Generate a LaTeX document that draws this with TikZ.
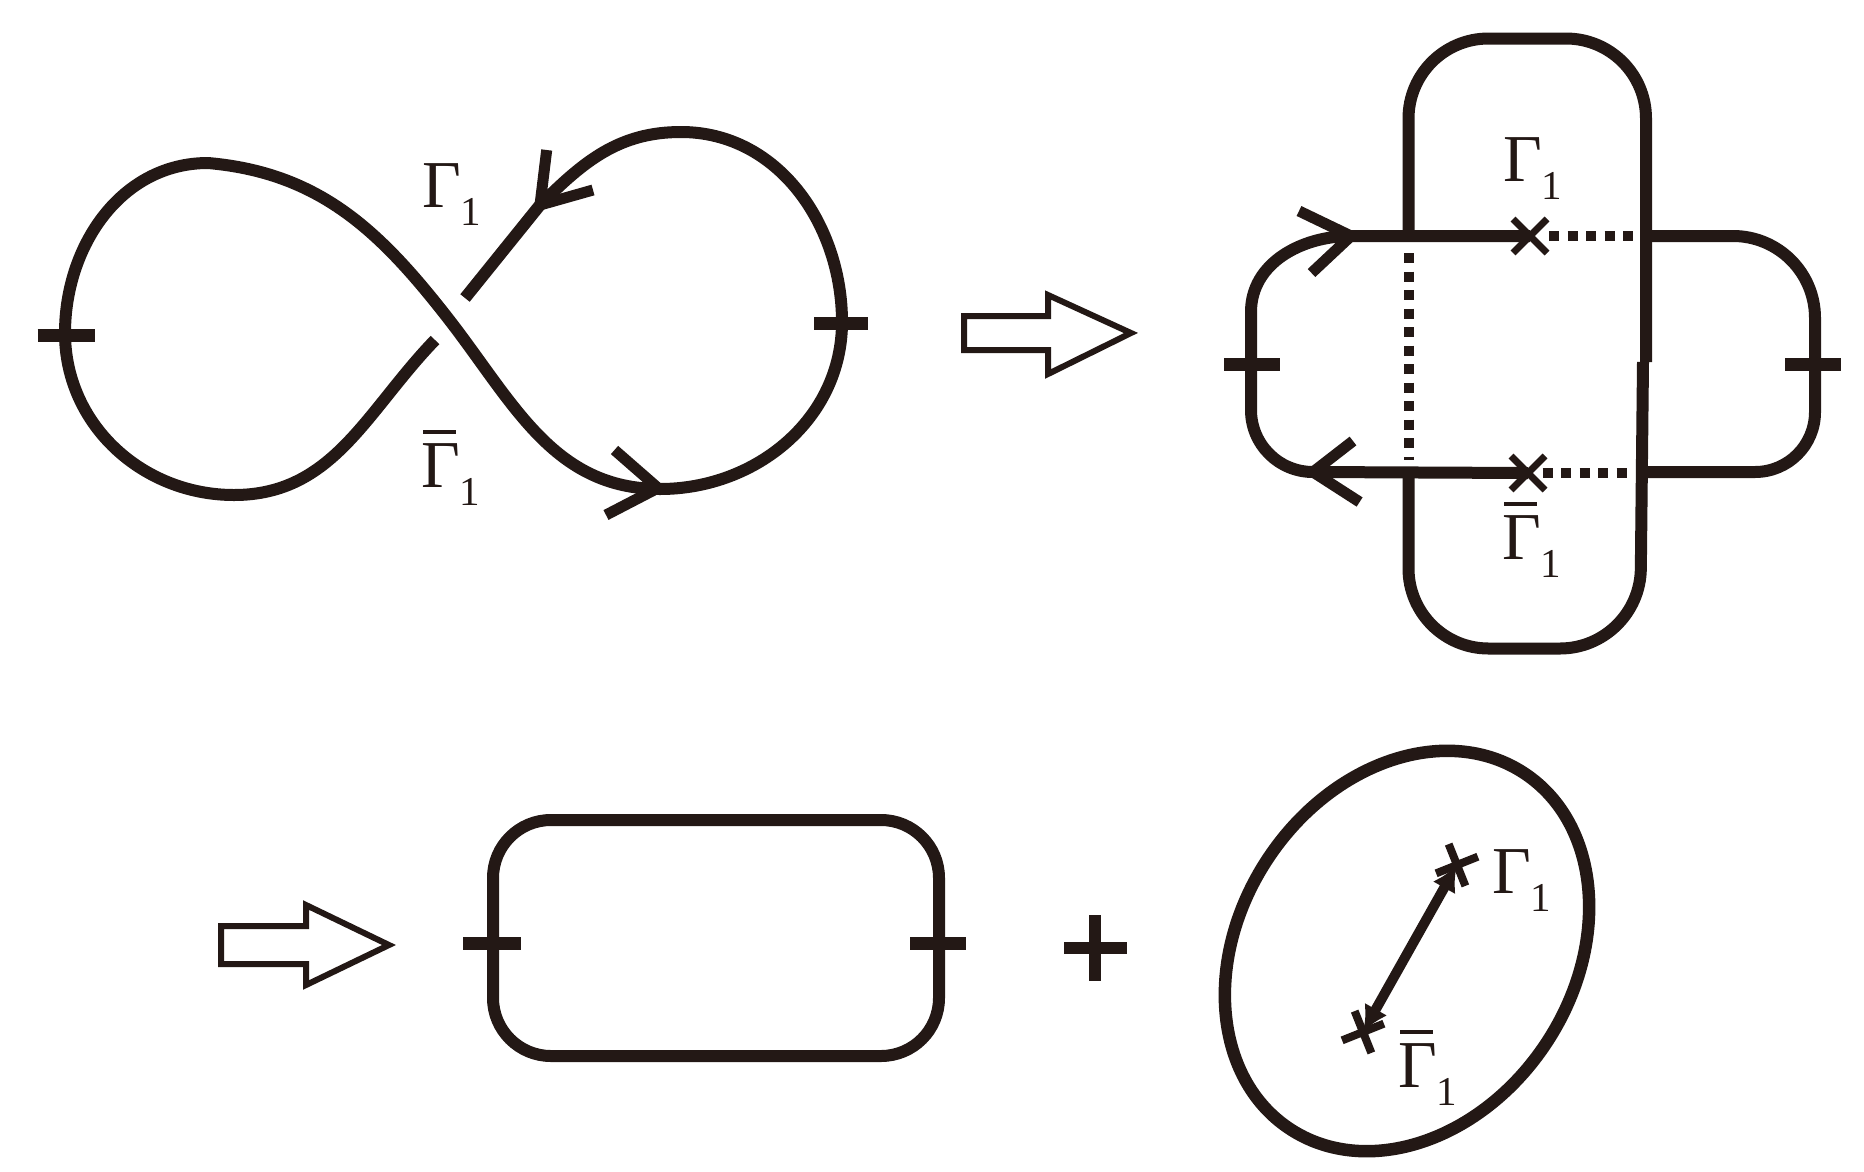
\documentclass[tikz,border=0pt]{standalone}
\usepackage{fontspec}
\setmainfont{Liberation Serif}
\usetikzlibrary{arrows.meta}
\definecolor{ink}{RGB}{35,24,21}
\newcommand{\GamSub}{Γ\raisebox{-18pt}{\fontsize{41}{41}\selectfont 1}}
\newcommand{\GamBarSub}{\rlap{\kern2pt\raisebox{53.5pt}{\color{ink}\rule{33pt}{3.8pt}}}\GamSub}
\begin{document}
\begin{tikzpicture}[x=1pt,y=1pt,
  curve/.style={draw=ink, line width=12pt},
  tickbar/.style={draw=ink, line width=13pt},
  chev/.style={draw=ink, line width=11pt, line join=miter},
  dotline/.style={draw=ink, line width=10pt, dash pattern=on 10pt off 8.5pt},
  xmark/.style={draw=ink, line width=7pt},
  xbar/.style={draw=ink, line width=8pt},
  hollow/.style={draw=ink, line width=6pt, fill=white, line join=miter},
  lbl/.style={inner sep=0pt, anchor=base west, text=ink, font=\fontsize{67}{70}\selectfont}]
\useasboundingbox[fill=white] (0,0) rectangle (1864,-1171);

% ---------- figure eight ----------
\coordinate (ga) at (435,-340);
\coordinate (gb) at (465,-298);
\coordinate (lbot) at (234,-495);
\coordinate (lleft) at (65,-333);
\coordinate (ltop) at (208,-163);
\coordinate (cross) at (447,-317);
\coordinate (rbot) at (660,-489);
\coordinate (rright) at (842,-322);
\coordinate (rtop) at (681,-132);
\coordinate (a1) at (540,-205);
\draw[curve] (ga) to[out=226,in=0] (lbot) to[out=180,in=270] (lleft)
  to[out=90,in=180] (ltop) to[out=-5,in=128] (cross) to[out=-52,in=180] (rbot)
  to[out=0,in=270] (rright) to[out=90,in=0] (rtop) to[out=180,in=45] (a1) -- (gb);
% arrows on the figure eight
\coordinate (a1p) at (546.7,-150);
\coordinate (a1q) at (593,-190);
\draw[chev] (a1p) -- (a1) -- (a1q);
\coordinate (a2) at (658,-488);
\coordinate (a2p) at (614.5,-450);
\coordinate (a2q) at (606,-515);
\draw[chev] (a2p) -- (a2) -- (a2q);
% ticks
\draw[tickbar] (37.5,-335) -- (95,-335);
\draw[tickbar] (814,-323) -- (868,-323);
% labels
\node[lbl] (g1a) at (422,-207) {\GamSub};
\node[lbl] (g1b) at (421,-487) {\GamBarSub};

% ---------- hollow arrow 1 ----------
\draw[hollow] (964,-316) -- (1048,-316) -- (1048,-295) -- (1131,-333) -- (1048,-374) -- (1048,-350) -- (964,-350) -- cycle;

% ---------- top right figure ----------
\coordinate (xu) at (1530,-236);
\coordinate (xl) at (1528,-473);
\coordinate (tu) at (1351,-236);
\coordinate (tl) at (1313,-472);
% vertical rounded rectangle, two pieces
\draw[curve, rounded corners=80pt] (1408.5,-236) -- (1408.5,-38.5) -- (1646,-38.5) -- (1646,-362);
\draw[curve, rounded corners=80pt] (1643,-362) -- (1640,-648.5) -- (1408.5,-648.5) -- (1408.5,-473);
% left loop
\draw[curve] (xu) -- (tu) to[out=180,in=90] (1251,-312) -- (1251,-410) to[out=270,in=180] (tl) -- (xl);
\draw[chev] (1299,-211) -- (tu) -- (1311.5,-273);
\draw[chev] (1353,-441) -- (tl) -- (1359.6,-502);
% right loop
\draw[curve] (1646,-236) -- (1733,-236) arc[start angle=90,end angle=0,radius=82] -- (1815,-412)
  arc[start angle=0,end angle=-90,radius=60] -- (1643,-472);
% dotted lines
\draw[dotline] (1408.5,-253) -- (1408.5,-460);
\draw[dotline] (1549,-236) -- (1634,-236);
\draw[dotline] (1542.5,-473) -- (1627,-473);
% x marks
\draw[xmark] (1513,-219) -- (1547,-253) (1513,-253) -- (1547,-219);
\draw[xmark] (1511,-456) -- (1545,-490) (1511,-490) -- (1545,-456);
% ticks
\draw[tickbar] (1224,-364) -- (1280,-364);
\draw[tickbar] (1785,-364) -- (1841,-364);
% labels
\node[lbl] (g2a) at (1503,-181) {\GamSub};
\node[lbl] (g2b) at (1502,-559) {\GamBarSub};

% ---------- bottom row ----------
\draw[hollow] (221,-926) -- (306,-926) -- (306,-905) -- (389,-945) -- (306,-985) -- (306,-964) -- (221,-964) -- cycle;
\draw[curve, rounded corners=58pt] (493,-820) rectangle (939,-1056);
\draw[tickbar] (463,-943) -- (521,-943);
\draw[tickbar] (910,-943) -- (966,-943);
% plus sign
\draw[draw=ink, line width=12pt] (1064,-948) -- (1127,-948) (1095,-915) -- (1095,-981);
% tilted ellipse
\draw[curve, line width=12.5pt, shift={(1407,-951)}, rotate=56.6] (0,0) ellipse[x radius=213, y radius=167];
\coordinate (cu) at (1457,-865);
\coordinate (cl) at (1363,-1032);
\draw[draw=ink, line width=10pt, {Latex[length=26pt,width=26pt]}-{Latex[length=26pt,width=26pt]}] (cl) -- (cu);
\draw[xbar, shift={(cu)}, rotate=21.8] (-22.5,0) -- (22.5,0) (0,-22.5) -- (0,22.5);
\draw[xbar, shift={(cl)}, rotate=21.8] (-22.5,0) -- (22.5,0) (0,-22.5) -- (0,22.5);
\node[lbl] (g3a) at (1492,-893) {\GamSub};
\node[lbl] (g3b) at (1398,-1087) {\GamBarSub};
\end{tikzpicture}
\end{document}
